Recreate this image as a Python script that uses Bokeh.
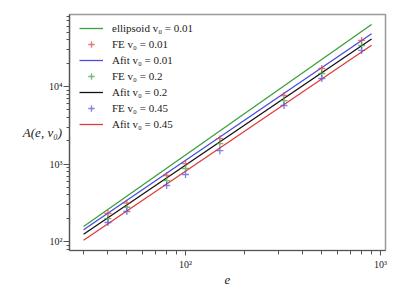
from bokeh.plotting import figure
from bokeh.models import FixedTicker, Legend, LegendItem
from bokeh.embed import file_html
from bokeh.resources import INLINE

# fitted / analytic curves (straight in log-log), sampled at the ends
e_line = [30, 900]
A_ellipsoid_001 = [156, 63000]
A_fit_001 = [142, 48000]
A_fit_02 = [124, 41000]
A_fit_045 = [104, 34000]

# FE results
e_fe = [40, 50, 80, 100, 150, 320, 500, 800]
A_fe_001 = [230, 312, 711, 1014, 2120, 7660, 17060, 39300]
A_fe_02 = [198, 277, 612, 875, 1828, 6590, 14720, 33800]
A_fe_045 = [176, 244, 528, 732, 1485, 5690, 12690, 29200]

x_major = [100, 1000]
x_minor = [30, 40, 50, 60, 70, 80, 90, 200, 300, 400, 500, 600, 700, 800, 900]
y_major = [100, 1000, 10000]
y_minor = [80, 90, 200, 300, 400, 500, 600, 700, 800, 900,
           2000, 3000, 4000, 5000, 6000, 7000, 8000, 9000,
           20000, 30000, 40000, 50000, 60000, 70000, 80000]
x_labels = {100: "10²", 1000: "10³"}
y_labels = {100: "10²", 1000: "10³", 10000: "10⁴"}

GREEN = "#3a9e3a"
RED = "#e03a3a"
BLUE = "#4a4ae0"
BLACK = "#111111"
FONT = "Liberation Serif"

p = figure(width=400, height=300, x_axis_type="log", y_axis_type="log",
           x_range=(25.4, 1061), y_range=(76.6, 84900),
           output_backend="svg", toolbar_location=None,
           min_border_left=69, min_border_right=15, min_border_top=14,
           min_border_bottom=50)
p.grid.visible = False
p.outline_line_color = "#999999"
p.outline_line_width = 1.5
p.background_fill_color = "white"
p.border_fill_color = "white"

for ax, maj, mnr, lab in ((p.xaxis[0], x_major, x_minor, x_labels),
                          (p.yaxis[0], y_major, y_minor, y_labels)):
    ax.ticker = FixedTicker(ticks=maj, minor_ticks=mnr)
    ax.major_label_overrides = lab
    ax.axis_line_color = "#555555"
    ax.axis_line_width = 1.2
    ax.major_tick_line_color = "#555555"
    ax.minor_tick_line_color = "#555555"
    ax.major_tick_in = 0
    ax.minor_tick_in = 0
    ax.major_label_text_font = FONT
    ax.major_label_text_font_size = "10px"
    ax.major_label_text_color = "#222222"

p.xaxis.major_tick_out = 5
p.xaxis.minor_tick_out = 4
p.xaxis.major_label_standoff = 3
p.yaxis.major_tick_out = 6
p.yaxis.minor_tick_out = 3
p.yaxis.major_label_standoff = 1

p.xaxis.axis_label = "e"
p.xaxis.axis_label_text_font = FONT
p.xaxis.axis_label_text_font_style = "italic"
p.xaxis.axis_label_text_font_size = "13px"
p.xaxis.axis_label_standoff = 3
p.xaxis.axis_label_text_color = "#222222"

p.yaxis.axis_label = "A(e, v₀)"
p.yaxis.axis_label_orientation = "horizontal"
p.yaxis.axis_label_standoff = -16
p.yaxis.axis_label_text_font = FONT
p.yaxis.axis_label_text_font_style = "italic"
p.yaxis.axis_label_text_font_size = "13px"
p.yaxis.axis_label_text_color = "#222222"

r_ell = p.line(e_line, A_ellipsoid_001, color=GREEN, line_width=1.3)
r_fit1 = p.line(e_line, A_fit_001, color=BLUE, line_width=1.3)
r_fit2 = p.line(e_line, A_fit_02, color=BLACK, line_width=1.3)
r_fit3 = p.line(e_line, A_fit_045, color=RED, line_width=1.3)

r_fe1 = p.scatter(e_fe, A_fe_001, marker="cross", size=7, line_color=RED,
                  line_width=1.3, line_alpha=0.7)
r_fe2 = p.scatter(e_fe, A_fe_02, marker="cross", size=7, line_color=GREEN,
                  line_width=1.3, line_alpha=0.7)
r_fe3 = p.scatter(e_fe, A_fe_045, marker="cross", size=7, line_color=BLUE,
                  line_width=1.3, line_alpha=0.7)

legend = Legend(items=[
    LegendItem(label="ellipsoid v₀ = 0.01", renderers=[r_ell]),
    LegendItem(label="FE v₀ = 0.01", renderers=[r_fe1]),
    LegendItem(label="Afit v₀ = 0.01", renderers=[r_fit1]),
    LegendItem(label="FE v₀ = 0.2", renderers=[r_fe2]),
    LegendItem(label="Afit v₀ = 0.2", renderers=[r_fit2]),
    LegendItem(label="FE v₀ = 0.45", renderers=[r_fe3]),
    LegendItem(label="Afit v₀ = 0.45", renderers=[r_fit3]),
], location=(10, 118))
legend.padding = 0
legend.margin = 0
legend.spacing = 0
legend.glyph_width = 24
legend.glyph_height = 16
legend.label_height = 16
legend.label_standoff = 9
legend.label_text_font = FONT
legend.label_text_font_size = "11px"
legend.label_text_color = "#222222"
legend.border_line_alpha = 0
legend.background_fill_alpha = 0
p.add_layout(legend, "center")

open("out.html", "w").write(file_html(p, INLINE))
